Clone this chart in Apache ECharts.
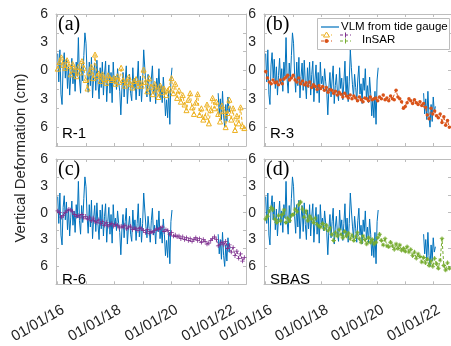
<!DOCTYPE html>
<html style="height: 100%">
<head>
<meta charset="utf-8">
</head>
<body style="height: 100%; margin: 0">
<div id="container" style="width: 451px; height: 346px"></div>
<script type="text/javascript" src="https://cdn.jsdelivr.net/npm/echarts@6/dist/echarts.min.js"></script>
<script type="text/javascript">

// VLM from tide gauge (cm), one value every 14 days, two pieces
var vlmStepDays = 14;
var vlmStart1 = 2016.0;
var vlm1 = [1.8, -1.2, 2.2, -2.5, -3.6, 0.6, 1.9, -0.8, 1.2, -1.9, 0.4, -2.6, -0.5, 1.3, -1.4, 0.2, -2.2, 0.9, -0.6, 3.5, -0.9, -2.4, 0.8, -1.1, 1.6, 4.0,
    2.9, -0.4, -2.3, 0.9, -1.6, 1.4, -2.9, -0.6, 0.8, -2.1, 1.1, -1.3, -3.0, 0.3, -1.8, 0.9, -2.6, -0.4, 1.0, -3.3, -1.0, 0.6, -2.4, -0.2, -3.4, 0.9,
    -1.4, -0.6, -2.0, 0.2, -1.2, -2.2, -4.7, -1.8, -0.2, -2.8, -1.0, 0.5, -3.5, -1.6, -0.4, -2.4, -3.2, 0.3, -1.9, -0.8, -3.1, -1.2, 1.0, -2.7, -0.6, -3.3,
    -1.2, 2.2, 0.3, -1.5, -2.8, -0.4, -1.8, -3.3, -0.9, 0.5, -2.5, -1.4, -3.5, -0.8, -2.1, 0.2, -2.9, -1.6, -3.4, -0.7, -2.4, -4.8, -3.1, -5.0, -2.2, -5.7,
    -1.0, 0.3];
var vlmStart2 = 2021.65;
var vlm2 = [-2.4, -4.6, -3.0, -5.2, -2.2, -4.8, -6.0, -3.6, -5.4, -2.8, -4.4, -3.8];

// InSAR (cm), one value every 24 days from 01/01/16
var insarStepDays = 24;
var insarStart = 2016.0;
var r1 = [0.2, 0.9, 1.4, 0.6, 0.3, 1.1, 0.5, -0.4, 0.7, 0.1, -0.6, 0.4, -0.2, 1.0, 0.3,
    -1.0, -1.9, -0.2, 0.4, -0.8, 1.7, -0.6, -0.3, -1.1, -0.4, -0.9, -1.3, -0.5, -0.8, -1.0,
    -0.8, -1.4, -0.6, -1.2, 0.3, -1.0, -1.6, -1.2, -0.7, -1.4, -1.8, -1.1, -0.9, -1.6, -1.3,
    -1.6, 0.1, -1.2, -2.2, -0.8, -1.7, -2.5, -1.4, -2.0, -2.8, -1.6, -2.3, -1.9, -2.6, -2.1,
    -1.9, -0.8, -2.4, -1.4, -2.9, -2.1, -3.3, -2.6, -3.6, -4.2, -3.1, -2.4, -3.9, -4.6, -3.4,
    -2.5, -4.7, -4.0, -5.2, -4.9, -3.6, -5.6, -4.2, -2.9, -4.0, -3.3, -4.6, -5.4, -3.7, -4.3,
    -6.0, -4.5, -3.1, -5.2, -4.0, -6.3, -4.8, -5.6, -3.9, -5.9, -6.1];
var r3 = [-0.1, -0.8, -1.2, -1.4, -1.0, -1.3, -1.2, -1.5, -1.0, -1.4, -0.9, -0.7, -0.5, -1.0, -0.8,
    -0.5, -1.0, -1.2, -0.8, -1.4, -1.1, -1.5, -1.3, -1.6, -1.2, -1.8, -1.5, -1.7, -2.0, -1.6,
    -1.9, -1.7, -2.1, -1.8, -2.3, -2.0, -2.1, -2.4, -2.2, -2.6, -2.3, -2.5, -2.8, -2.4, -2.7,
    -2.9, -2.6, -3.0, -2.7, -2.9, -3.2, -2.8, -3.1, -3.3, -2.9, -3.0, -3.2, -2.8, -3.1, -3.0,
    -2.9, -3.2, -2.8, -3.0, -2.6, -3.1, -2.9, -3.2, -2.7, -3.0, -3.1, -2.1, -2.8, -3.0, -3.3,
    -4.0, -3.8, -3.4, -3.0, -3.2, -3.5, -3.1, -3.4, -3.6, -3.3, -3.7, -3.5, -3.9, -4.7, -5.1,
    -4.0, -4.6, -4.3, -4.8, -5.0, -4.6, -5.5, -4.9, -5.8, -5.3, -6.0];
var r6 = [0.2, 0.0, -0.5, -0.3, 0.0, 0.2, 0.4, 0.3, 0.1, -0.2, -0.4, -0.3, -0.5, -0.2, -0.6,
    -0.4, -0.7, -0.5, -0.9, -0.6, -1.0, -1.1, -0.8, -1.2, -1.0, -1.4, -1.1, -1.5, -1.3, -1.2,
    -1.5, -1.3, -1.4, -1.7, -1.5, -1.6, -1.4, -1.8, -1.6, -1.5, -1.9, -1.7, -1.8, -2.0, -1.7,
    -1.8, -2.0, -2.2, -1.9, -2.3, -2.1, -2.2, -2.0, -1.8, -1.9, -1.7, -1.6, -2.1, -1.9, -2.0,
    -2.4, -2.2, -2.6, -2.5, -2.7, -2.6, -2.9, -2.7, -3.0, -2.8, -3.1, -2.9, -3.2, -3.0, -2.8,
    -3.1, -2.9, -3.3, -3.0, -3.2, -3.5, -3.4, -3.1, -2.9, -2.7, -3.0, -3.7, -3.5, -3.3, -3.6,
    -3.2, -4.0, -3.6, -4.4, -3.9, -4.8, -4.3, -5.1, -4.6, -5.4, -5.0];
var sbas = [-0.7, -0.4, 0.2, 0.6, 0.4, -0.7, -1.1, -0.3, -0.9, -0.2, 0.3, -1.1, -0.6, -0.9, -0.3,
    -0.2, 0.4, 0.1, 0.9, 1.2, 0.4, -0.5, 0.2, -0.9, -0.4, -0.7, -1.1, -0.6, -1.3, -1.5,
    -1.6, -1.2, -1.8, -1.4, -2.0, -1.7, -2.4, -3.1, -2.2, -2.6, -1.9, -2.4, -2.8, -2.1, -2.6,
    -2.3, -2.9, -2.5, -3.1, -2.7, -2.2, -2.9, -3.3, -2.6, -3.0, -3.5, -2.8, -3.3, -3.0, -3.5,
    -3.3, -2.8, -2.4, -3.1, -3.6, -2.9, -3.7, -3.8, -3.3, -3.7, -4.1, -3.5, -4.0, -3.6, -4.2,
    -4.0, -4.3, -3.8, -4.4, -4.1, -4.8, -4.4, -5.1, -4.6, -4.9, -5.5, -5.0, -5.6, -5.2, -5.9,
    -5.4, -6.0, -5.1, -5.7, -6.2, -5.3, -2.9, -5.9, -6.4, -5.6, -6.2];

var panelTags = ['(a)', '(b)', '(c)', '(d)'];
var panelNames = ['R-1', 'R-3', 'R-6', 'SBAS'];
var insarSets = [r1, r3, r6, sbas];
var insarColors = ['#EDB120', '#D95319', '#7E2F8E', '#77AC30'];
var insarSymbols = ['triangle', 'circle',
    'path://M-1,-0.18H1V0.18H-1Z M-0.18,-1H0.18V1H-0.18Z',
    'path://M-1,-0.2H1V0.2H-1Z M-0.2,-1H0.2V1H-0.2Z M-0.75,-0.6L0.6,0.75L0.75,0.6L-0.6,-0.75Z M-0.75,0.6L0.6,-0.75L0.75,-0.6L-0.6,0.75Z'];
var yLabelValues = [-6, -3, 0, 3, 6];
var yTickValues = [-8, -6, -4, -2, 0, 2, 4, 6];
var xLabelYears = [2016, 2018, 2020, 2022];
var xTickYears = [2016, 2017, 2018, 2019, 2020, 2021, 2022];

var dom = document.getElementById('container');
var myChart = echarts.init(dom);

function toPairs(start, stepDays, vals) {
    return vals.map(function (v, i) { return [start + i * stepDays / 365.25, v]; });
}

var vlmData = toPairs(vlmStart1, vlmStepDays, vlm1)
    .concat([[2020.9, null]])
    .concat(toPairs(vlmStart2, vlmStepDays, vlm2));

var boxColor = '#bdbdbd';
var textColor = '#262626';
var gridPos = [
    {left: 56, top: 14, width: 190, height: 132},
    {left: 264, top: 14, width: 190, height: 132},
    {left: 56, top: 159, width: 190, height: 133},
    {left: 264, top: 159, width: 190, height: 133}
];

var grids = [], xAxes = [], yAxes = [], series = [];
gridPos.forEach(function (g, k) {
    grids.push({left: g.left, top: g.top, width: g.width, height: g.height, containLabel: false});
    var bottomRow = k >= 2;
    ['bottom', 'top'].forEach(function (pos) {
        xAxes.push({
            type: 'value', gridIndex: k, position: pos, min: 2015.94, max: 2022.63,
            splitLine: {show: false},
            axisLine: {show: true, onZero: false, lineStyle: {color: boxColor, width: 1}},
            axisTick: {show: true, inside: true, length: 3, customValues: xTickYears, lineStyle: {color: boxColor}},
            axisLabel: {
                show: pos === 'bottom' && bottomRow, customValues: xLabelYears, rotate: 30, margin: 19,
                align: 'right', verticalAlign: 'top', padding: [0, -2, 0, 0],
                fontSize: 15, fontFamily: 'Liberation Sans', color: textColor,
                formatter: function (v) { return '01/01/' + String(Math.round(v)).slice(2); }
            }
        });
    });
    ['left', 'right'].forEach(function (pos) {
        yAxes.push({
            type: 'value', gridIndex: k, position: pos, min: -8, max: 6,
            splitLine: {show: false},
            axisLine: {show: true, onZero: false, lineStyle: {color: boxColor, width: 1}},
            axisTick: {show: true, inside: true, length: 3, customValues: yTickValues, lineStyle: {color: boxColor}},
            axisLabel: {
                show: pos === 'left', customValues: yLabelValues, margin: 8,
                fontSize: 14, fontFamily: 'Liberation Sans', color: textColor,
                formatter: function (v) { return String(Math.abs(v)); }
            }
        });
    });
    series.push({
        type: 'line', name: 'VLM from tide gauge', xAxisIndex: 2 * k, yAxisIndex: 2 * k,
        data: vlmData, showSymbol: false, connectNulls: false, animation: false,
        lineStyle: {color: '#0072BD', width: 1}, z: 2
    });
    var filled = k !== 0;
    series.push({
        type: 'line', name: 'InSAR', xAxisIndex: 2 * k, yAxisIndex: 2 * k,
        data: toPairs(insarStart, insarStepDays, insarSets[k]),
        symbol: insarSymbols[k], symbolSize: k === 0 ? 5 : (k === 1 ? 3.5 : 4.5), showSymbol: true, animation: false,
        lineStyle: {color: insarColors[k], width: 1, type: [3, 2]},
        itemStyle: filled ? {color: insarColors[k]} : {color: 'rgba(0,0,0,0)', borderColor: insarColors[k], borderWidth: 1},
        z: 3
    });
});

var graphics = [];
gridPos.forEach(function (g, k) {
    graphics.push({
        type: 'text', left: g.left + 2, top: g.top + 1, z: 10,
        style: {text: panelTags[k], font: '20px "Liberation Serif"', fill: '#000'}
    });
    graphics.push({
        type: 'text', left: g.left + 6, top: g.top + g.height - 20, z: 10,
        style: {text: panelNames[k], font: '15px "Liberation Sans"', fill: '#000'}
    });
});
graphics.push({
    type: 'text', rotation: Math.PI / 2, x: 21, y: 158, z: 10,
    style: {text: 'Vertical Deformation (cm)', font: '15px "Liberation Sans"', fill: textColor,
        align: 'center', verticalAlign: 'middle'}
});

// legend box
var lg = {x: 317, y: 18, w: 132, h: 31};
graphics.push({type: 'rect', z: 20, shape: {x: lg.x + 0.5, y: lg.y + 0.5, width: lg.w, height: lg.h},
    style: {fill: '#fff', stroke: boxColor, lineWidth: 1}});
graphics.push({type: 'line', z: 21, shape: {x1: 321, y1: 27, x2: 339, y2: 27},
    style: {stroke: '#0072BD', lineWidth: 1.2}});
graphics.push({type: 'text', z: 21, x: 341, y: 27,
    style: {text: 'VLM from tide gauge', font: '11.5px "Liberation Sans"', fill: '#000', verticalAlign: 'middle'}});
var iconPos = [[321, 35], [321, 41], [340, 35], [340, 41]];
iconPos.forEach(function (p, k) {
    graphics.push({type: 'line', z: 21, shape: {x1: p[0], y1: p[1], x2: p[0] + 11, y2: p[1]},
        style: {stroke: insarColors[k], lineWidth: 1, lineDash: [3, 2]}});
    var cx = p[0] + 5.5, cy = p[1];
    if (k === 0) {
        graphics.push({type: 'polygon', z: 22, shape: {points: [[cx, cy - 3], [cx - 3, cy + 2], [cx + 3, cy + 2]]},
            style: {fill: '#fff', stroke: insarColors[k], lineWidth: 1}});
    } else if (k === 1) {
        graphics.push({type: 'circle', z: 22, shape: {cx: cx, cy: cy, r: 2}, style: {fill: insarColors[k]}});
    } else {
        graphics.push({type: 'line', z: 22, shape: {x1: cx, y1: cy - 2.5, x2: cx, y2: cy + 2.5},
            style: {stroke: insarColors[k], lineWidth: 1}});
    }
});
graphics.push({type: 'text', z: 21, x: 362, y: 40,
    style: {text: 'InSAR', font: '11.5px "Liberation Sans"', fill: '#000', verticalAlign: 'middle'}});

var option = {
    backgroundColor: '#fff',
    animation: false,
    grid: grids,
    xAxis: xAxes,
    yAxis: yAxes,
    series: series,
    graphic: graphics
};
myChart.setOption(option);

window.onresize = function () {
    myChart.resize();
};
</script>
</body>
</html>
